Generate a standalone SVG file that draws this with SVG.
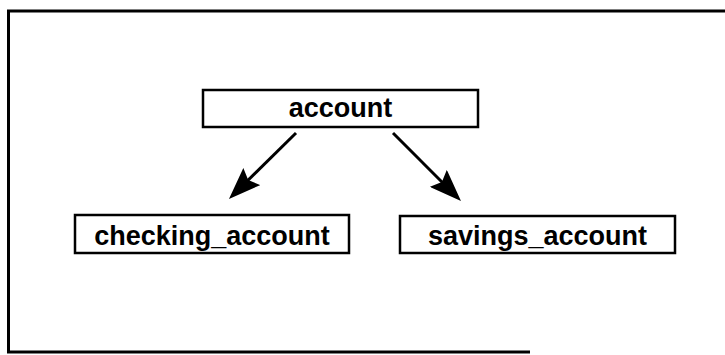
<svg xmlns="http://www.w3.org/2000/svg" width="725" height="355" viewBox="0 0 725 355">
<style>
.box{fill:#fff;stroke:#000;stroke-width:2.5}
.lbl{font-family:"Liberation Sans",Arial,Helvetica,sans-serif;font-weight:bold;font-size:27px;fill:#000;text-anchor:middle}
.conn{stroke:#000;stroke-width:3;fill:none;marker-end:url(#arr)}
.frame{stroke:#000;stroke-width:3;fill:none}
</style>
<defs>
<marker id="arr" viewBox="0 0 32 24" refX="21" refY="12" markerWidth="32" markerHeight="24" markerUnits="userSpaceOnUse" orient="auto">
<path d="M0,0 L32,12 L0,24 L5,12 Z" fill="#000"/>
</marker>
</defs>
<rect width="725" height="355" fill="#fff"/>
<g id="frame">
<path class="frame" d="M725,11 L8.5,11 L8.5,352 L530,352"/>
</g>
<g id="account">
<rect class="box" x="203" y="90" width="275" height="37"/>
<text class="lbl" x="340.5" y="117">account</text>
</g>
<g id="checking_account">
<rect class="box" x="75" y="215" width="274" height="38"/>
<text class="lbl" x="212" y="245">checking_account</text>
</g>
<g id="savings_account">
<rect class="box" x="400" y="216" width="275" height="37"/>
<text class="lbl" x="537.5" y="245">savings_account</text>
</g>
<g id="connectors">
<line class="conn" x1="296" y1="133" x2="236.8" y2="191.3"/>
<line class="conn" x1="393" y1="133" x2="453.2" y2="193.2"/>
</g>
</svg>
